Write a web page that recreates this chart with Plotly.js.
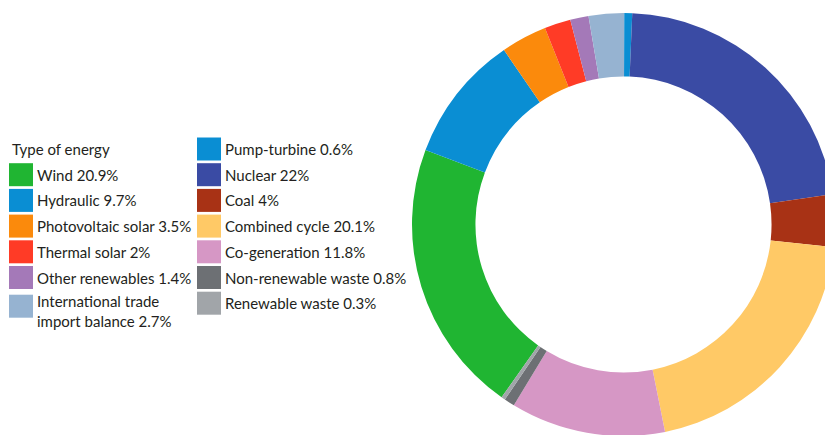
<!DOCTYPE html>
<html>
<head>
<meta charset="utf-8">
<script src="https://cdn.plot.ly/plotly-3.0.1.min.js"></script>
<style>
html, body { margin: 0; padding: 0; overflow: hidden; width: 825px; height: 435px; background: #fff; }
#chart { width: 850px; height: 445px; }
</style>
</head>
<body>
<div id="chart"></div>
<script>
// Data (legend order = clockwise order around the ring)
const categories = [
  "Wind", "Hydraulic", "Photovoltaic solar", "Thermal solar", "Other renewables",
  "International trade<br>import balance",
  "Pump-turbine", "Nuclear", "Coal", "Combined cycle", "Co-generation",
  "Non-renewable waste", "Renewable waste"
];
const shares = [20.9, 9.7, 3.5, 2, 1.4, 2.7, 0.6, 22, 4, 20.1, 11.8, 0.8, 0.3];
const colors = [
  "#20b532", "#0a8ed3", "#fb8a0c", "#ff3b26", "#a479b8", "#96b3d1",
  "#0a8ed3", "#3a4ba4", "#a83215", "#ffc966", "#d697c5", "#6d7074", "#a1a5a9"
];
const legendTitle = "Type of energy";

const W = 850, H = 445;
const px = x => x / W;
const py = y => 1 - y / H;

const trace = {
  type: "pie",
  labels: categories,
  values: shares,
  marker: { colors: colors, line: { width: 0 } },
  hole: 0.70,
  sort: false,
  direction: "clockwise",
  rotation: 215.2,
  textinfo: "none",
  hoverinfo: "label+percent",
  showlegend: false,
  domain: { x: [px(412), px(835)], y: [py(436), py(13)] }
};

const annotations = [];
const shapes = [];
const font = { family: "Lato, 'Open Sans', sans-serif", size: 15, color: "#231f20" };

annotations.push({
  text: legendTitle, xref: "paper", yref: "paper",
  x: px(10), y: py(149), xanchor: "left", yanchor: "middle",
  showarrow: false, font: font
});

const rowStep = 25.7;
categories.forEach((c, i) => {
  let col, row;
  if (i < 6) { col = 0; row = i + 1; } else { col = 1; row = i - 6; }
  const sx = col === 0 ? 9 : 197;
  const yc = 149 + row * rowStep + (i === 5 ? 3 : 0);
  shapes.push({
    type: "rect", xref: "paper", yref: "paper",
    x0: px(sx), x1: px(sx + 24), y0: py(yc - 11.5), y1: py(yc + 11.5),
    fillcolor: colors[i], line: { width: 0 }
  });
  annotations.push({
    text: c + " " + shares[i] + "%", xref: "paper", yref: "paper",
    x: px(sx + 26), y: py(i === 5 ? yc + 5 : yc), xanchor: "left", yanchor: "middle",
    align: "left", showarrow: false, font: font
  });
});

const layout = {
  width: W, height: H,
  margin: { l: 0, r: 0, t: 0, b: 0 },
  paper_bgcolor: "#ffffff",
  showlegend: false,
  annotations: annotations,
  shapes: shapes
};

Plotly.newPlot("chart", [trace], layout, { displayModeBar: false, staticPlot: true });
</script>
</body>
</html>
